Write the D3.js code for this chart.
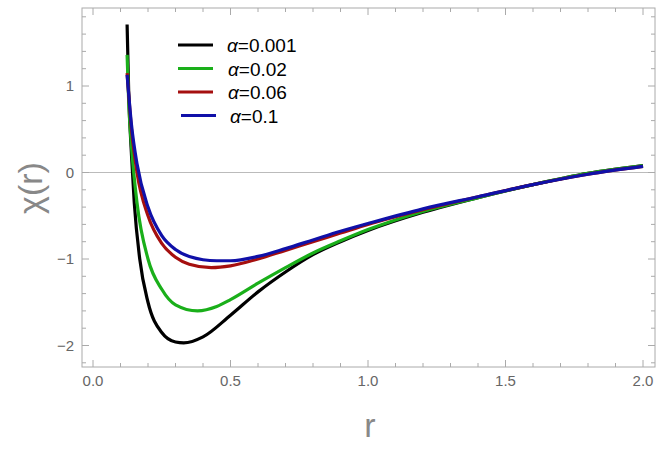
<!DOCTYPE html>
<html><head><meta charset="utf-8">
<script src="https://cdn.jsdelivr.net/npm/d3@7"></script>
<style>body{margin:0;background:#fff}</style>
</head><body><div id="chart"></div>
<script>
const rBlack = [0.124,0.13,0.14,0.15,0.17,0.2,0.25,0.3,0.33,0.4,0.5,0.6,0.7,0.8,0.9,1.0,1.2,1.4,1.6,1.8,2.0]
const yBlack = [1.71,0.9,0.2,-0.35,-1.0,-1.5,-1.85,-1.96,-1.97,-1.9,-1.65,-1.38,-1.15,-0.95,-0.8,-0.67,-0.46,-0.29,-0.14,-0.01,0.08]
const rGreen = [0.124,0.13,0.14,0.16,0.2,0.25,0.3,0.38,0.45,0.5,0.6,0.7,0.8,0.9,1.0,1.2,1.4,1.6,1.8,2.0]
const yGreen = [1.36,0.8,0.3,-0.35,-1.0,-1.35,-1.53,-1.6,-1.55,-1.47,-1.28,-1.1,-0.93,-0.79,-0.66,-0.45,-0.29,-0.14,-0.01,0.08]
const rRed = [0.124,0.14,0.16,0.2,0.25,0.3,0.35,0.43,0.5,0.6,0.7,0.8,0.9,1.0,1.2,1.4,1.6,1.8,2.0]
const yRed = [1.15,0.5,0.0,-0.5,-0.82,-0.98,-1.06,-1.1,-1.08,-1.0,-0.9,-0.8,-0.7,-0.6,-0.43,-0.28,-0.14,-0.02,0.07]
const rBlue = [0.124,0.14,0.16,0.2,0.25,0.3,0.35,0.45,0.5,0.6,0.7,0.8,0.9,1.0,1.2,1.4,1.6,1.8,2.0]
const yBlue = [1.13,0.55,0.1,-0.4,-0.73,-0.89,-0.97,-1.02,-1.02,-0.97,-0.88,-0.78,-0.68,-0.59,-0.42,-0.28,-0.14,-0.02,0.07]
const labels = ["α=0.001","α=0.02","α=0.06","α=0.1"]
const colors = ["#000000","#1aaf1a","#a50f0f","#1010a8"]
const xTicks = [0,0.5,1,1.5,2]
const yTicks = [-2,-1,0,1]

const W = 664, H = 449
const svg = d3.select("#chart").append("svg").attr("width", W).attr("height", H)
    .style("font-family", "Liberation Sans, Arial, sans-serif")

// 0 -> 93px, 2 -> 643px ; y 0 -> 172px, 1 -> 86px
const x = d3.scaleLinear().domain([0, 2]).range([93, 643])
const y = d3.scaleLinear().domain([-1, 1]).range([259, 86])
const L = 82, R = 655, T = 8, B = 367
const grey = "#888"

svg.append("rect").attr("x", L).attr("y", T).attr("width", R - L).attr("height", B - T)
    .attr("fill", "none").attr("stroke", "#aaa")

svg.append("line").attr("x1", L).attr("x2", R).attr("y1", y(0)).attr("y2", y(0))
    .attr("stroke", "#bbb")

// ticks
const xMinor = d3.range(0, 2.01, 0.1)
xMinor.forEach(v => {
    const major = xTicks.some(t => Math.abs(t - v) < 1e-6)
    const len = major ? 7 : 4
    svg.append("line").attr("x1", x(v)).attr("x2", x(v)).attr("y1", B).attr("y2", B - len).attr("stroke", "#aaa")
    svg.append("line").attr("x1", x(v)).attr("x2", x(v)).attr("y1", T).attr("y2", T + len).attr("stroke", "#aaa")
})
const yMinor = d3.range(-2.2, 2.01, 0.2).map(v => Math.round(v * 10) / 10)
yMinor.forEach(v => {
    if (y(v) < T || y(v) > B) return
    const major = yTicks.includes(v)
    const len = major ? 7 : 4
    svg.append("line").attr("y1", y(v)).attr("y2", y(v)).attr("x1", L).attr("x2", L + len).attr("stroke", "#aaa")
    svg.append("line").attr("y1", y(v)).attr("y2", y(v)).attr("x1", R).attr("x2", R - len).attr("stroke", "#aaa")
})
xTicks.forEach(v => {
    svg.append("text").attr("x", x(v)).attr("y", B + 19).attr("text-anchor", "middle")
        .attr("font-size", 15).attr("fill", "#666").text(d3.format(".1f")(v))
})
yTicks.forEach(v => {
    svg.append("text").attr("x", L - 8).attr("y", y(v) + 5).attr("text-anchor", "end")
        .attr("font-size", 15).attr("fill", "#666").text(v < 0 ? "−" + Math.abs(v) : v)
})

svg.append("text").attr("x", 370).attr("y", 437).attr("text-anchor", "middle")
    .attr("font-size", 34).attr("fill", grey).text("r")
svg.append("text").attr("transform", "translate(42,188) rotate(-90)").attr("text-anchor", "middle")
    .attr("font-size", 34).attr("fill", grey).text("χ(r)")

const series = [[rBlack, yBlack], [rGreen, yGreen], [rRed, yRed], [rBlue, yBlue]]
const line = d3.line().x(d => x(d[0])).y(d => y(d[1])).curve(d3.curveMonotoneX)
series.forEach((s, i) => {
    svg.append("path").attr("d", line(d3.zip(s[0], s[1])))
        .attr("fill", "none").attr("stroke", colors[i]).attr("stroke-width", 3.2)
})

// legend
labels.forEach((t, i) => {
    const ly = 45 + i * 23.5
    const off = i === 3 ? 3 : 0
    svg.append("line").attr("x1", 178 + off).attr("x2", 213 + off).attr("y1", ly).attr("y2", ly)
        .attr("stroke", colors[i]).attr("stroke-width", 3.2)
    svg.append("text").attr("x", 227 + off + (i > 0 && i < 3 ? 1 : 0)).attr("y", ly + 7)
        .attr("font-size", 19).attr("fill", "#000")
        .html(`<tspan font-style="italic">α</tspan>=${t.slice(2)}`)
})
</script></body></html>
